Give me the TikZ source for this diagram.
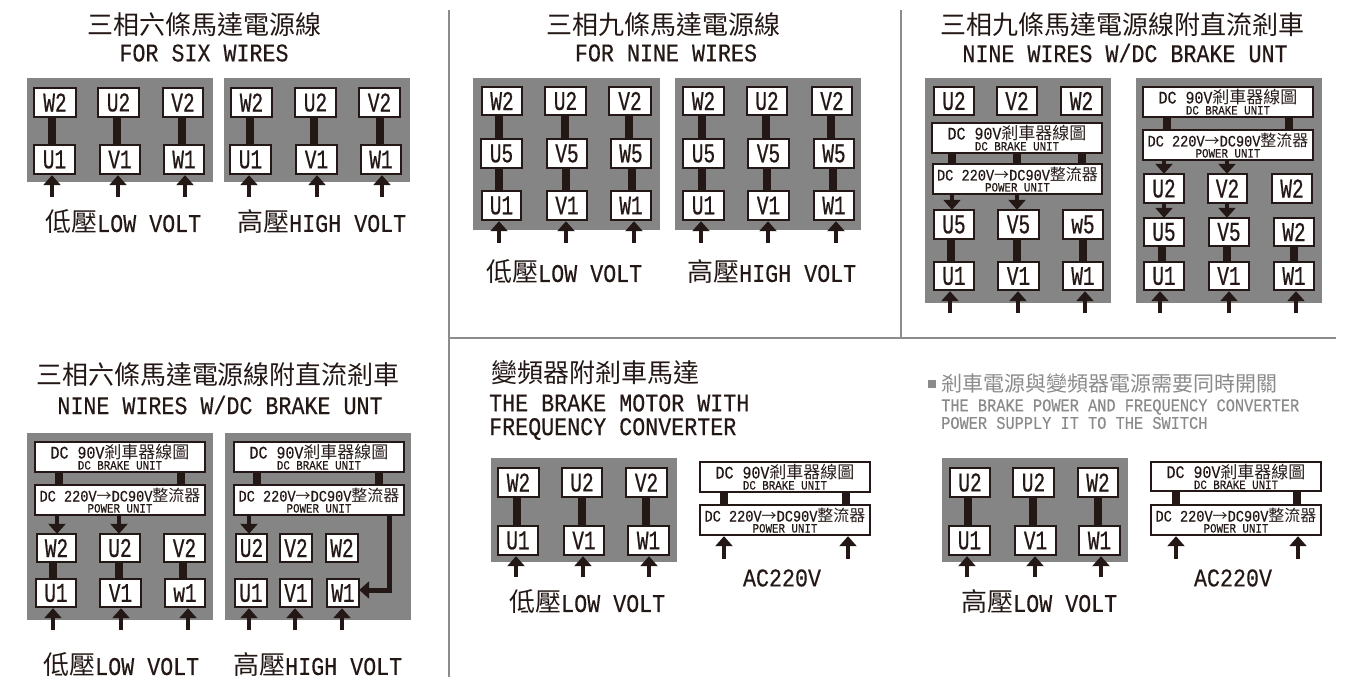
\documentclass[tikz,border=0pt]{standalone}
\usepackage{fontspec}
\usetikzlibrary{arrows.meta}
\newfontfamily\cjk{Noto Sans CJK TC}
\newfontfamily\mono[FakeStretch=0.85,FakeBold=0.35]{Liberation Mono}
\newfontfamily\labf[FakeStretch=0.72,FakeBold=0.6]{Liberation Mono}
\newcommand\zh[2]{{\cjk\fontsize{#1}{#1}\selectfont #2}}
\newcommand\en[2]{{\mono\fontsize{#1}{#1}\selectfont #2}}
\definecolor{ink}{HTML}{231815}
\definecolor{panel}{HTML}{858585}
\definecolor{rule}{HTML}{8C8C8C}
\definecolor{soft}{HTML}{8A8A8A}
\tikzset{
  termbox/.style={draw=ink,fill=white,line width=1.6pt,inner sep=0pt,outer sep=0pt,text=ink},
  unitbox/.style={draw=ink,fill=white,line width=1.6pt,inner sep=0pt,outer sep=0pt},
  unittext/.style={inner sep=0pt,anchor=base,text=ink},
  link/.style={draw=ink,line width=7.2pt},
  feed/.style={draw=ink,line width=3.6pt,-{Triangle[width=17pt,length=10pt]},shorten >=1pt},
  titletext/.style={inner sep=0pt,text=ink,align=left},
  notetext/.style={inner sep=0pt,text=soft,align=left},
  divider/.style={draw=rule,line width=1.8pt},
}
% name x1 y1 x2 y2 label
\newcommand\tb[6]{\node[termbox,minimum width={(#4-#2-1.6)*1pt},minimum height={(#5-#3-1.6)*1pt}] (#1) at ({(#2+#4)/2},{(#3+#5)/2}) {\labf\fontsize{27}{27}\selectfont #6};}
\newcommand\brk[5]{\node[unitbox,minimum width={(#4-#2-1.6)*1pt},minimum height={(#5-#3-1.6)*1pt}] (#1) at ({(#2+#4)/2},{(#3+#5)/2}) {};
  \node[unittext] (#1t) at ([yshift=-1.5pt]#1.center) {\en{17.6}{DC 90V}\zh{17}{剎車器線圖}};
  \node[unittext] (#1u) at ([yshift=-12.5pt]#1.center) {\en{12.7}{DC BRAKE UNIT}};}
\newcommand\pow[5]{\node[unitbox,minimum width={(#4-#2-1.6)*1pt},minimum height={(#5-#3-1.6)*1pt}] (#1) at ({(#2+#4)/2},{(#3+#5)/2}) {};
  \node[unittext] (#1t) at ([yshift=-1.5pt]#1.center) {\en{16}{DC 220V}\zh{15}{→}\en{16}{DC90V}\zh{16}{整流器}};
  \node[unittext] (#1u) at ([yshift=-12.5pt]#1.center) {\en{12.7}{POWER UNIT}};}
% from-node to-node x
\newcommand\lnk[3]{\coordinate (tmpx) at (#3,0); \draw[link] (tmpx |- #1.south) -- (tmpx |- #2.north);}
% x bottom-y node
\newcommand\inarrow[3]{\coordinate (tmpx) at (#1,#2); \draw[feed] (tmpx) -- (tmpx |- #3.south);}
% from-node to-node x
\newcommand\dnarrow[3]{\coordinate (tmpx) at (#3,0); \draw[feed,shorten >=0pt] (tmpx |- #1.south) -- (tmpx |- #2.north);}
\begin{document}
\begin{tikzpicture}[x=1pt,y=-1pt]
\useasboundingbox (0,0) rectangle (1345,679);
% dividers
\coordinate (d1a) at (449,10); \coordinate (d1b) at (449,677);
\coordinate (d2a) at (901,10); \coordinate (d2b) at (901,338);
\coordinate (d3a) at (449,338); \coordinate (d3b) at (1336,338);
\draw[divider] (d1a) -- (d1b);
\draw[divider] (d2a) -- (d2b);
\draw[divider] (d3a) -- (d3b);
% titles
\node[titletext] (t1) at (204,25) {\zh{26}{三相六條馬達電源線}};
\node[titletext] (t1b) at (204,53) {\en{25.5}{FOR SIX WIRES}};
\node[titletext] (t2) at (663,25) {\zh{26}{三相九條馬達電源線}};
\node[titletext] (t2b) at (666,53) {\en{25.5}{FOR NINE WIRES}};
\node[titletext] (t3) at (1122,25) {\zh{26}{三相九條馬達電源線附直流剎車}};
\node[titletext] (t3b) at (1125,53) {\en{25.5}{NINE WIRES W/DC BRAKE UNT}};
\node[titletext] (t4) at (218,375) {\zh{26}{三相六條馬達電源線附直流剎車}};
\node[titletext] (t4b) at (220,405) {\en{25.5}{NINE WIRES W/DC BRAKE UNT}};
\node[titletext,anchor=west] (t5) at (491,373) {\zh{26}{變頻器附剎車馬達}};
\node[titletext,anchor=west] (t5b) at (489,403) {\en{25.5}{THE BRAKE MOTOR WITH}};
\node[titletext,anchor=west] (t5c) at (489,429) {\en{25.5}{FREQUENCY CONVERTER}};
\fill[soft] (928,380) rectangle (936,388);
\node[notetext,anchor=west] (t6) at (941,384) {\zh{21}{剎車電源與變頻器電源需要同時開關}};
\node[notetext,anchor=west] (t6b) at (941,407) {\en{18}{THE BRAKE POWER AND FREQUENCY CONVERTER}};
\node[notetext,anchor=west] (t6c) at (941,423) {\en{18}{POWER SUPPLY IT TO THE SWITCH}};
% caption labels
\node[titletext,anchor=west] (c1) at (45,222) {\zh{26}{低壓}\en{25.5}{LOW VOLT}};
\node[titletext,anchor=west] (c2) at (237,222) {\zh{26}{高壓}\en{25.5}{HIGH VOLT}};
\node[titletext,anchor=west] (c3) at (486,272) {\zh{26}{低壓}\en{25.5}{LOW VOLT}};
\node[titletext,anchor=west] (c4) at (687,272) {\zh{26}{高壓}\en{25.5}{HIGH VOLT}};
\node[titletext,anchor=west] (c5) at (43,665) {\zh{26}{低壓}\en{25.5}{LOW VOLT}};
\node[titletext,anchor=west] (c6) at (233,665) {\zh{26}{高壓}\en{25.5}{HIGH VOLT}};
\node[titletext,anchor=west] (c7) at (509,602) {\zh{26}{低壓}\en{25.5}{LOW VOLT}};
\node[titletext,anchor=west] (c8) at (961,602) {\zh{26}{高壓}\en{25.5}{LOW VOLT}};
\node[titletext] (c9) at (782,578) {\en{25.5}{AC220V}};
\node[titletext] (c10) at (1233,578) {\en{25.5}{AC220V}};
% gray panels
\fill[panel] (27,78) rectangle (213,182);
\fill[panel] (224,78) rectangle (410,182);
\fill[panel] (473,78) rectangle (660,230);
\fill[panel] (675,78) rectangle (861,230);
\fill[panel] (925,78) rectangle (1111,303);
\fill[panel] (1136,78) rectangle (1322,303);
\fill[panel] (27,433) rectangle (213,620);
\fill[panel] (225,433) rectangle (411,620);
\fill[panel] (491,458) rectangle (677,562);
\fill[panel] (942,458) rectangle (1128,562);
% panel A1
\tb{aa}{33}{87}{77}{118}{W2} \tb{ab}{97}{87}{140}{118}{U2} \tb{ac}{162}{87}{204}{118}{V2}
\tb{ad}{33}{144}{76}{175}{U1} \tb{ae}{99}{144}{141}{175}{V1} \tb{af}{163}{144}{205}{175}{W1}
\lnk{aa}{ad}{52} \lnk{ab}{ae}{117} \lnk{ac}{af}{182}
\inarrow{52}{197}{ad} \inarrow{118}{197}{ae} \inarrow{185}{197}{af}
% panel A2
\tb{ba}{230}{87}{273}{118}{W2} \tb{bb}{294}{87}{337}{118}{U2} \tb{bc}{358}{87}{401}{118}{V2}
\tb{bd}{229}{144}{272}{175}{U1} \tb{be}{295}{144}{338}{175}{V1} \tb{bf}{360}{144}{402}{175}{W1}
\lnk{ba}{bd}{250} \lnk{bb}{be}{314} \lnk{bc}{bf}{380}
\inarrow{249}{197}{bd} \inarrow{317}{197}{be} \inarrow{382}{197}{bf}
% panel B1
\tb{ca}{481}{86}{523}{116}{W2} \tb{cb}{544}{86}{587}{116}{U2} \tb{cc}{608}{86}{652}{116}{V2}
\tb{cd}{480}{138}{523}{169}{U5} \tb{ce}{546}{138}{588}{169}{V5} \tb{cf}{610}{138}{652}{169}{W5}
\tb{cg}{481}{190}{522}{221}{U1} \tb{ch}{546}{190}{588}{221}{V1} \tb{ci}{610}{190}{652}{221}{W1}
\lnk{ca}{cd}{499} \lnk{cb}{ce}{565} \lnk{cc}{cf}{629}
\lnk{cd}{cg}{499} \lnk{ce}{ch}{566} \lnk{cf}{ci}{632}
\inarrow{499}{243}{cg} \inarrow{566}{243}{ch} \inarrow{634}{243}{ci}
% panel B2
\tb{da}{682}{86}{725}{116}{W2} \tb{db}{746}{86}{788}{116}{U2} \tb{dc}{811}{86}{853}{116}{V2}
\tb{dd}{682}{138}{725}{169}{U5} \tb{de}{747}{138}{790}{169}{V5} \tb{df}{813}{138}{855}{169}{W5}
\tb{dg}{682}{190}{725}{221}{U1} \tb{dh}{747}{190}{790}{221}{V1} \tb{di}{813}{190}{855}{221}{W1}
\lnk{da}{dd}{702} \lnk{db}{de}{766} \lnk{dc}{df}{831}
\lnk{dd}{dg}{702} \lnk{de}{dh}{767} \lnk{df}{di}{833}
\inarrow{701}{243}{dg} \inarrow{768}{243}{dh} \inarrow{836}{243}{di}
% panel C1
\tb{ea}{933}{86}{975}{116}{U2} \tb{eb}{996}{86}{1038}{116}{V2} \tb{ec}{1060}{86}{1103}{116}{W2}
\brk{ebr}{931}{122}{1103}{154} \pow{epw}{932}{163}{1103}{195}
\tb{ed}{933}{209}{975}{240}{U5} \tb{ee}{997}{209}{1040}{240}{V5} \tb{ef}{1062}{209}{1104}{240}{w5}
\tb{eg}{933}{261}{975}{291}{U1} \tb{eh}{997}{261}{1040}{291}{V1} \tb{ei}{1062}{261}{1104}{291}{W1}
\lnk{ebr}{epw}{952} \lnk{ebr}{epw}{1017} \lnk{ebr}{epw}{1082}
\dnarrow{epw}{ed}{952} \dnarrow{epw}{ee}{1017}
\lnk{ed}{eg}{951} \lnk{ee}{eh}{1017} \lnk{ef}{ei}{1083}
\inarrow{950}{313}{eg} \inarrow{1018}{313}{eh} \inarrow{1085}{313}{ei}
% panel C2
\brk{fbr}{1142}{86}{1314}{118} \pow{fpw}{1142}{129}{1314}{161}
\tb{fa}{1143}{173}{1185}{204}{U2} \tb{fb}{1207}{173}{1248}{204}{V2} \tb{fc}{1271}{173}{1313}{204}{W2}
\tb{fd}{1143}{217}{1185}{247}{U5} \tb{fe}{1208}{217}{1250}{247}{V5} \tb{ff}{1273}{217}{1315}{247}{W2}
\tb{fg}{1143}{261}{1185}{291}{U1} \tb{fh}{1208}{261}{1250}{291}{V1} \tb{fi}{1273}{261}{1315}{291}{W1}
\lnk{fbr}{fpw}{1167} \lnk{fbr}{fpw}{1289}
\dnarrow{fpw}{fa}{1164} \dnarrow{fpw}{fb}{1227}
\dnarrow{fa}{fd}{1164} \dnarrow{fb}{fe}{1227}
\lnk{fd}{fg}{1162} \lnk{fe}{fh}{1227} \lnk{ff}{fi}{1294}
\inarrow{1160}{313}{fg} \inarrow{1229}{313}{fh} \inarrow{1296}{313}{fi}
% panel D1
\brk{gbr}{34}{441}{206}{473} \pow{gpw}{34}{484}{206}{516}
\tb{ga}{36}{533}{77}{563}{W2} \tb{gb}{99}{533}{141}{563}{U2} \tb{gc}{163}{533}{206}{563}{V2}
\tb{gd}{35}{578}{77}{608}{U1} \tb{ge}{99}{578}{142}{608}{V1} \tb{gf}{164}{578}{206}{608}{w1}
\lnk{gbr}{gpw}{59} \lnk{gbr}{gpw}{181}
\dnarrow{gpw}{ga}{57} \dnarrow{gpw}{gb}{119}
\lnk{ga}{gd}{53} \lnk{gb}{ge}{119} \lnk{gc}{gf}{183}
\inarrow{53}{630}{gd} \inarrow{121}{630}{ge} \inarrow{188}{630}{gf}
% panel D2
\brk{hbr}{233}{441}{405}{473} \pow{hpw}{233}{484}{405}{516}
\tb{ha}{235}{533}{268}{563}{U2} \tb{hb}{279}{533}{313}{563}{V2} \tb{hc}{325}{533}{359}{563}{W2}
\tb{hd}{234}{578}{268}{608}{U1} \tb{he}{279}{578}{313}{608}{V1} \tb{hf}{326}{578}{360}{608}{W1}
\lnk{hbr}{hpw}{257} \lnk{hbr}{hpw}{379}
\dnarrow{hpw}{ha}{249}
\coordinate (hturn) at (389,590);
\draw[feed,line width=5pt,-{Triangle[width=17pt,length=10pt]},shorten >=0pt] (hturn |- hpw.south) -- (hturn) -- (hf.east |- hturn);
\inarrow{249}{630}{hd} \inarrow{295}{630}{he} \inarrow{342}{630}{hf}
% panel E1
\tb{ia}{497}{467}{540}{498}{W2} \tb{ib}{561}{467}{603}{498}{U2} \tb{ic}{625}{467}{668}{498}{V2}
\tb{id}{497}{525}{539}{556}{U1} \tb{ie}{563}{525}{605}{556}{V1} \tb{if}{627}{525}{670}{556}{W1}
\lnk{ia}{id}{517} \lnk{ib}{ie}{582} \lnk{ic}{if}{646}
\inarrow{516}{577}{id} \inarrow{583}{577}{ie} \inarrow{649}{577}{if}
\brk{ibr}{699}{461}{871}{493} \pow{ipw}{699}{504}{871}{536}
\lnk{ibr}{ipw}{724} \lnk{ibr}{ipw}{846}
\inarrow{724}{559}{ipw} \inarrow{848}{559}{ipw}
% panel F
\tb{ja}{949}{467}{991}{498}{U2} \tb{jb}{1012}{467}{1055}{498}{U2} \tb{jc}{1077}{467}{1119}{498}{W2}
\tb{jd}{948}{525}{991}{556}{U1} \tb{je}{1014}{525}{1057}{556}{V1} \tb{jf}{1078}{525}{1121}{556}{W1}
\lnk{ja}{jd}{968} \lnk{jb}{je}{1033} \lnk{jc}{jf}{1098}
\inarrow{967}{577}{jd} \inarrow{1035}{577}{je} \inarrow{1101}{577}{jf}
\brk{jbr}{1150}{461}{1322}{492} \pow{jpw}{1150}{504}{1322}{536}
\lnk{jbr}{jpw}{1176} \lnk{jbr}{jpw}{1297}
\inarrow{1176}{559}{jpw} \inarrow{1298}{559}{jpw}
\end{tikzpicture}
\end{document}
